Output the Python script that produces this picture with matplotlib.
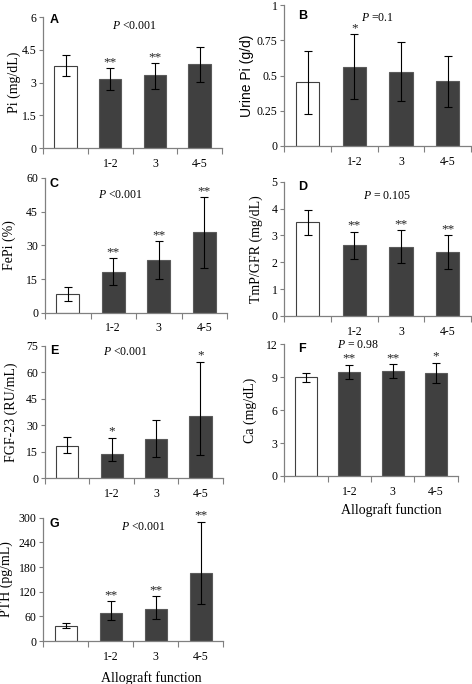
import matplotlib

matplotlib.use("Agg")
import matplotlib.pyplot as plt

FIG_W, FIG_H = 472, 684
SERIF = ["Liberation Serif", "DejaVu Serif"]
SANS = ["Liberation Sans", "DejaVu Sans"]

CATEGORIES = ["", "1-2", "3", "4-5"]

# values: mean, lower error, upper error, star marks
pi_mean = [3.77, 3.18, 3.33, 3.85]
pi_lo = [0.48, 0.50, 0.60, 0.80]
pi_hi = [0.48, 0.48, 0.56, 0.79]
pi_stars = ["", "**", "**", ""]

upi_mean = [0.455, 0.562, 0.526, 0.46]
upi_lo = [0.225, 0.232, 0.21, 0.182]
upi_hi = [0.217, 0.232, 0.21, 0.178]
upi_stars = ["", "*", "", ""]

fepi_mean = [8.3, 18.3, 23.3, 35.8]
fepi_lo = [3.3, 6.0, 8.5, 15.8]
fepi_hi = [3.3, 5.9, 8.5, 15.6]
fepi_stars = ["", "**", "**", "**"]

tmp_mean = [3.49, 2.63, 2.58, 2.40]
tmp_lo = [0.46, 0.52, 0.61, 0.66]
tmp_hi = [0.44, 0.51, 0.61, 0.62]
tmp_stars = ["", "**", "**", "**"]

fgf_mean = [18.2, 13.5, 22.0, 35.1]
fgf_lo = [4.1, 3.8, 9.8, 22.0]
fgf_hi = [5.2, 9.4, 10.8, 30.7]
fgf_stars = ["", "*", "", "*"]

ca_mean = [9.0, 9.51, 9.58, 9.39]
ca_lo = [0.43, 0.66, 0.61, 0.94]
ca_hi = [0.42, 0.64, 0.60, 0.94]
ca_stars = ["", "**", "**", "*"]

pth_mean = [36.5, 69.0, 77.0, 166.0]
pth_lo = [5.5, 18.0, 23.0, 77.0]
pth_hi = [6.5, 27.5, 31.6, 124.0]
pth_stars = ["", "**", "**", "**"]

PANELS = [
    # letter, mean, lo, hi, stars, ylabel, ticks, tick labels, p text, box px (l, t, r, b)
    ("A", pi_mean, pi_lo, pi_hi, pi_stars, "Pi (mg/dL)", [0, 1.5, 3, 4.5, 6], None,
     "<0.001", (43.3, 17, 222, 148.3), (50, 20), (134, 26), 21, SERIF),
    ("B", upi_mean, upi_lo, upi_hi, upi_stars, "Urine Pi (g/d)", [0, 0.25, 0.5, 0.75, 1],
     ["0", "0.25", "0.5", "0.75", "1"], "=0.1", (284.3, 5, 471, 146), (298, 16), (377, 18), 254, SANS),
    ("C", fepi_mean, fepi_lo, fepi_hi, fepi_stars, "FePi (%)", [0, 15, 30, 45, 60], None,
     "<0.001", (45, 178, 227, 312.7), (50, 184), (120, 195), 16, SERIF),
    ("D", tmp_mean, tmp_lo, tmp_hi, tmp_stars, "TmP/GFR (mg/dL)", [0, 1, 2, 3, 4, 5], None,
     "= 0.105", (284.3, 181.7, 471, 316), (298, 187), (387, 196), 263, SERIF),
    ("E", fgf_mean, fgf_lo, fgf_hi, fgf_stars, "FGF-23 (RU/mL)", [0, 15, 30, 45, 60, 75], None,
     "<0.001", (45, 345.5, 222.7, 478.3), (50, 351), (125, 352), 18, SERIF),
    ("F", ca_mean, ca_lo, ca_hi, ca_stars, "Ca (mg/dL)", [0, 3, 6, 9, 12], None,
     "= 0.98", (284.3, 344.4, 457.7, 476), (298, 349), (358, 345), 257, SERIF),
    ("G", pth_mean, pth_lo, pth_hi, pth_stars, "PTH (pg/mL)", [0, 60, 120, 180, 240, 300], None,
     "<0.001", (43.3, 517.7, 223.3, 641), (50, 524), (143, 527), 13, SERIF),
]

BAR_COLORS = ["white", "#404040", "#404040", "#404040"]
EDGE_COLORS = ["#404040", "#5a5a5a", "#5a5a5a", "#5a5a5a"]
AXIS_GREY = "#808080"


def draw_panel(fig, spec):
    (letter, mean, lo, hi, stars, ylabel, ticks, ticklabels, ptext,
     box, letter_xy, p_xy, ylabel_x, ylabel_family) = spec
    left, top, right, bottom = box
    axis = fig.add_axes([left / FIG_W, 1 - bottom / FIG_H, (right - left) / FIG_W, (bottom - top) / FIG_H])
    xs = list(range(len(mean)))
    axis.bar(xs, mean, width=0.5, color=BAR_COLORS, edgecolor=EDGE_COLORS, linewidth=0.8, zorder=2)
    axis.errorbar(xs, mean, yerr=[lo, hi], fmt="none", ecolor="black", elinewidth=0.8,
                  capsize=2.6, capthick=0.8, zorder=3)
    for x, m, h, s in zip(xs, mean, hi, stars):
        if s:
            axis.annotate(s, (x, m + h), xytext=(0, 0), textcoords="offset points",
                          ha="center", va="bottom", fontsize=9.5, family=SERIF,
                          color="#222222", annotation_clip=False)
    axis.set_xlim(-0.5, len(mean) - 0.5)
    axis.set_ylim(ticks[0], ticks[-1])
    axis.set_yticks(ticks, ticklabels if ticklabels else [f"{t:g}" for t in ticks])
    axis.set_xticks(xs, CATEGORIES)
    axis.set_xticks([x - 0.5 for x in range(len(mean) + 1)], minor=True)
    axis.tick_params(axis="x", which="major", length=0, pad=7, labelsize=8.5)
    axis.tick_params(axis="x", which="minor", length=4.5, width=0.8, color=AXIS_GREY, direction="out")
    axis.tick_params(axis="y", length=3, width=0.8, color=AXIS_GREY, labelsize=8.5, pad=2)
    for label in axis.get_xticklabels() + axis.get_yticklabels():
        label.set_family(SERIF)
    for side in ("top", "right"):
        axis.spines[side].set_visible(False)
    for side in ("left", "bottom"):
        axis.spines[side].set_color(AXIS_GREY)
        axis.spines[side].set_linewidth(0.9)
    axis.set_ylabel(ylabel, fontsize=10, family=ylabel_family)
    # label coords put the right edge of the rotated text at ylabel_x
    axis.yaxis.set_label_coords((ylabel_x - left) / (right - left), 0.5)
    fig.text(letter_xy[0] / FIG_W, 1 - letter_xy[1] / FIG_H, letter, fontsize=9, fontweight="bold",
             family=SANS, ha="left", va="center")
    fig.text(p_xy[0] / FIG_W, 1 - p_xy[1] / FIG_H, r"$\it{P}$ " + ptext, fontsize=8.5,
             family=SERIF, ha="center", va="center")
    return axis


def main() -> None:
    plt.rcParams["mathtext.fontset"] = "custom"
    plt.rcParams["mathtext.it"] = "Liberation Serif:italic"
    fig = plt.figure(figsize=(FIG_W / 100, FIG_H / 100), dpi=100)
    for spec in PANELS:
        draw_panel(fig, spec)
    fig.text(391 / FIG_W, 1 - 510 / FIG_H, "Allograft function", fontsize=10, family=SERIF,
             ha="center", va="center")
    fig.text(151 / FIG_W, 1 - 678 / FIG_H, "Allograft function", fontsize=10, family=SERIF,
             ha="center", va="center")
    fig.savefig("out.png", dpi=100)
    plt.close(fig)


if __name__ == "__main__":
    main()
